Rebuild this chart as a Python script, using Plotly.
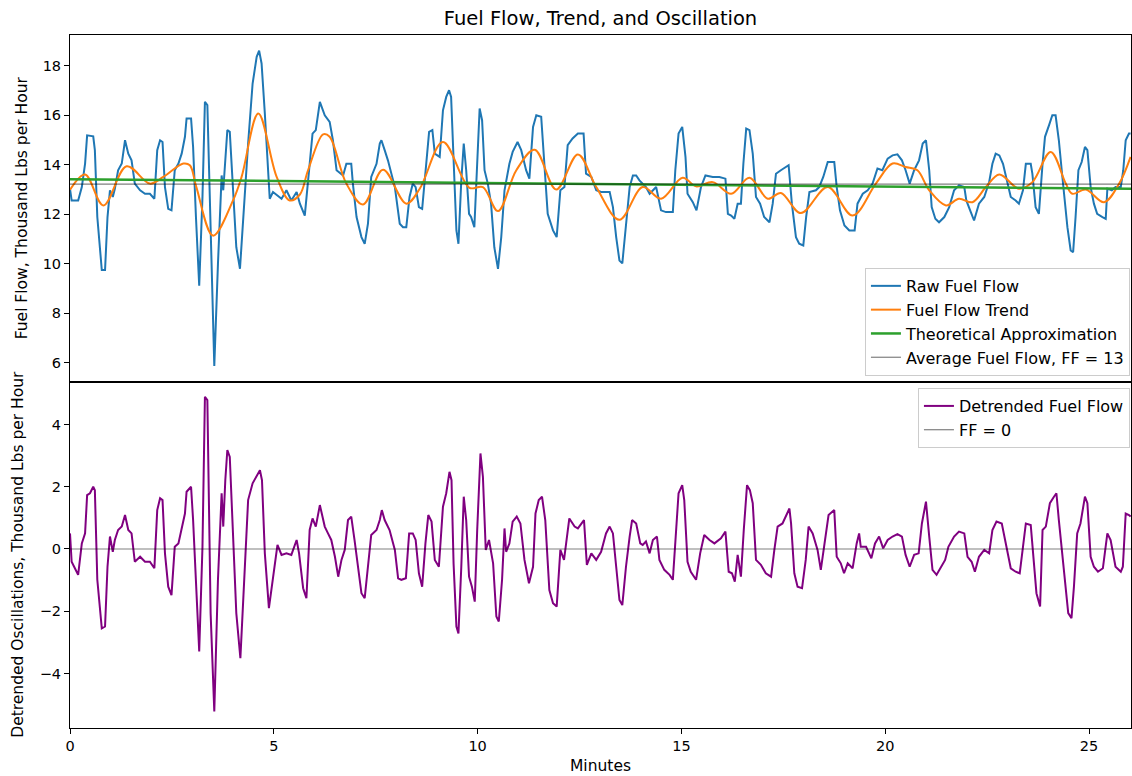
import plotly.graph_objects as go
from plotly.subplots import make_subplots

# ---------------- data ----------------
raw_minutes = [0.00, 0.04, 0.20, 0.29, 0.37, 0.42, 0.57, 0.61, 0.67, 0.78, 0.86, 0.92, 0.98, 1.05, 1.10, 1.18, 1.27, 1.35,
               1.43, 1.51, 1.59, 1.72, 1.84, 1.96, 2.07, 2.14, 2.21, 2.27, 2.33, 2.41, 2.49, 2.57, 2.66, 2.74, 2.82, 2.86,
               2.97, 3.02, 3.09, 3.17, 3.25, 3.31, 3.37, 3.45, 3.54, 3.63, 3.72, 3.76, 3.82, 3.86, 3.92, 4.00, 4.08, 4.17,
               4.29, 4.37, 4.48, 4.58, 4.64, 4.70, 4.78, 4.86, 4.90, 4.98, 5.09, 5.19, 5.31, 5.43, 5.56, 5.64, 5.76, 5.84,
               5.95, 6.03, 6.13, 6.25, 6.37, 6.45, 6.54, 6.70, 6.78, 6.90, 6.94, 7.03, 7.15, 7.23, 7.31, 7.39, 7.52, 7.60,
               7.64, 7.72, 7.80, 7.97, 8.09, 8.17, 8.25, 8.33, 8.41, 8.48, 8.56, 8.64, 8.74, 8.81, 8.89, 8.95, 9.07, 9.15,
               9.23, 9.30, 9.35, 9.41, 9.48, 9.53, 9.60, 9.66, 9.72, 9.79, 9.84, 9.92, 9.98, 10.05, 10.11, 10.17, 10.25,
               10.33, 10.41, 10.50, 10.58, 10.66, 10.78, 10.86, 10.98, 11.07, 11.19, 11.27, 11.36, 11.44, 11.56, 11.64,
               11.72, 11.85, 11.94, 12.03, 12.13, 12.21, 12.33, 12.46, 12.60, 12.66, 12.79, 12.91, 13.03, 13.24, 13.32,
               13.40, 13.48, 13.55, 13.63, 13.73, 13.81, 13.89, 13.97, 14.05, 14.13, 14.22, 14.30, 14.38, 14.50, 14.62,
               14.79, 14.85, 14.93, 15.02, 15.10, 15.15, 15.28, 15.37, 15.48, 15.59, 15.77, 15.93, 16.08, 16.14, 16.22,
               16.30, 16.38, 16.46, 16.52, 16.59, 16.67, 16.75, 16.83, 16.93, 17.03, 17.16, 17.24, 17.32, 17.44, 17.55,
               17.63, 17.71, 17.81, 17.89, 17.99, 18.06, 18.14, 18.30, 18.38, 18.48, 18.59, 18.75, 18.81, 18.89, 19.00,
               19.12, 19.25, 19.32, 19.45, 19.57, 19.69, 19.81, 19.93, 20.06, 20.18, 20.30, 20.41, 20.50, 20.60, 20.71,
               20.83, 20.92, 21.00, 21.08, 21.14, 21.23, 21.32, 21.45, 21.57, 21.69, 21.81, 21.94, 21.99, 22.10, 22.18,
               22.30, 22.43, 22.55, 22.63, 22.71, 22.80, 22.89, 23.00, 23.08, 23.20, 23.28, 23.38, 23.45, 23.57, 23.61,
               23.69, 23.77, 23.86, 23.92, 24.02, 24.10, 24.18, 24.26, 24.33, 24.39, 24.47, 24.55, 24.61, 24.67, 24.74,
               24.82, 24.90, 24.96, 25.04, 25.12, 25.20, 25.33, 25.41, 25.45, 25.56, 25.65, 25.78, 25.84, 25.90, 25.98,
               26.02]
raw_fuel_flow = [13.03, 12.56, 12.56, 13.10, 14.05, 15.19, 15.15, 14.59, 11.89, 9.75, 9.75, 11.89, 12.97, 12.70, 13.03,
                 13.78, 14.05, 14.99, 14.45, 14.18, 13.24, 12.97, 12.83, 12.83, 12.63, 14.59, 14.99, 14.92, 13.10, 12.22,
                 12.16, 13.78, 14.05, 14.45, 15.13, 15.87, 15.87, 14.72, 11.89, 9.12, 12.70, 16.54, 16.41, 11.35, 5.88,
                 10.00, 13.57, 12.97, 14.32, 15.40, 15.33, 12.97, 10.67, 9.80, 12.97, 14.86, 17.28, 18.36, 18.61, 18.09,
                 16.07, 13.37, 12.63, 12.90, 12.76, 12.63, 12.97, 12.56, 12.90, 12.43, 11.95, 13.37, 15.26, 15.40, 16.54,
                 16.00, 15.73, 14.99, 13.78, 13.57, 14.04, 14.04, 13.24, 11.89, 11.08, 10.81, 11.62, 13.51, 14.04, 14.86,
                 14.99, 14.59, 14.18, 13.10, 11.62, 11.48, 11.48, 12.70, 13.24, 13.10, 12.29, 12.22, 14.04, 15.33, 15.40,
                 14.45, 14.32, 16.20, 16.74, 17.01, 16.74, 14.04, 11.35, 10.81, 13.37, 14.86, 13.78, 12.02, 11.89, 11.48,
                 14.04, 16.27, 15.80, 13.78, 13.24, 12.43, 10.67, 9.80, 11.08, 12.97, 14.04, 14.52, 14.92, 14.59, 13.78,
                 13.44, 15.53, 16.00, 15.94, 14.04, 12.02, 11.35, 11.08, 12.97, 13.10, 14.79, 15.06, 15.26, 15.26, 13.64,
                 13.51, 12.97, 12.90, 12.90, 12.29, 11.08, 10.13, 10.02, 11.48, 13.10, 13.57, 13.57, 13.37, 13.24, 13.10,
                 12.83, 12.97, 13.10, 12.16, 12.09, 12.09, 13.78, 15.26, 15.53, 14.32, 12.83, 12.49, 12.16, 13.10, 13.57,
                 13.51, 13.51, 13.44, 12.02, 11.95, 11.82, 12.43, 12.43, 14.04, 15.46, 15.40, 14.45, 12.70, 12.43, 11.89,
                 11.68, 12.43, 13.64, 13.78, 13.91, 13.98, 12.43, 11.08, 10.81, 10.74, 11.89, 12.90, 12.97, 13.10, 13.51,
                 14.11, 14.11, 13.10, 12.16, 11.55, 11.35, 11.35, 12.43, 12.83, 12.97, 13.24, 13.85, 13.78, 14.25, 14.38,
                 14.42, 14.18, 13.78, 13.24, 13.78, 14.18, 14.86, 14.99, 13.78, 12.29, 11.82, 11.68, 11.89, 12.29, 12.97,
                 13.17, 13.10, 12.56, 12.09, 11.75, 12.43, 12.70, 13.30, 14.04, 14.45, 14.38, 14.04, 13.24, 12.70, 12.56,
                 12.43, 12.97, 14.04, 14.04, 13.64, 12.29, 12.02, 14.04, 15.13, 15.60, 16.00, 16.00, 14.99, 13.78, 12.70,
                 11.48, 10.54, 10.47, 11.89, 13.78, 14.11, 14.72, 14.59, 13.10, 12.43, 12.02, 11.89, 11.82, 13.04, 12.97,
                 13.10, 13.10, 13.78, 14.99, 15.26, 15.26]

trend_minutes = [0.00, 0.37, 0.82, 1.39, 1.96, 2.29, 2.78, 2.94, 3.10, 3.51, 4.00, 4.21, 4.62, 5.07, 5.39, 5.64, 5.84,
                 6.21, 6.37, 6.78, 7.19, 7.68, 8.25, 8.58, 9.15, 9.80, 10.13, 10.50, 10.95, 11.40, 11.93, 12.46, 12.91,
                 13.48, 14.05, 14.50, 15.03, 15.36, 15.77, 16.22, 16.67, 17.12, 17.44, 17.93, 18.59, 19.20, 19.77, 20.18,
                 20.50, 20.79, 21.08, 21.49, 21.81, 22.14, 22.47, 22.80, 23.28, 23.61, 24.06, 24.43, 24.59, 24.92, 25.37,
                 25.74, 26.02]
trend_fuel_flow = [12.99, 13.61, 12.36, 13.94, 13.24, 13.51, 14.05, 13.98, 13.10, 11.14, 12.56, 13.51, 16.07, 13.51,
                   12.56, 12.80, 13.78, 15.23, 15.13, 13.24, 12.40, 13.80, 12.43, 13.03, 14.92, 13.07, 13.10, 12.13,
                   13.78, 14.61, 13.00, 14.42, 13.10, 11.78, 13.10, 12.63, 13.48, 13.13, 13.30, 12.83, 13.48, 12.63,
                   12.86, 12.05, 13.10, 11.95, 13.24, 14.05, 13.91, 13.78, 12.97, 12.36, 12.63, 12.49, 13.10, 13.61,
                   13.03, 13.30, 14.52, 13.24, 12.83, 13.00, 12.49, 13.24, 14.32]

theory_minutes = [0.00, 26.03]
theory_fuel_flow = [13.42, 13.03]

average_fuel_flow = 13.22
zero_level = 0.0
axis_span_minutes = [0.00, 26.03]

detrended_minutes = [0.00, 0.04, 0.12, 0.20, 0.29, 0.37, 0.42, 0.49, 0.57, 0.61, 0.67, 0.78, 0.86, 0.92, 0.98, 1.05,
                     1.10, 1.18, 1.27, 1.35, 1.43, 1.51, 1.59, 1.72, 1.84, 1.96, 2.07, 2.14, 2.21, 2.27, 2.33, 2.41,
                     2.49, 2.57, 2.66, 2.74, 2.82, 2.86, 2.97, 3.02, 3.09, 3.17, 3.25, 3.31, 3.37, 3.45, 3.54, 3.63,
                     3.72, 3.76, 3.81, 3.86, 3.92, 4.00, 4.08, 4.18, 4.29, 4.37, 4.48, 4.58, 4.66, 4.71, 4.78, 4.88,
                     4.98, 5.09, 5.19, 5.31, 5.43, 5.56, 5.62, 5.72, 5.80, 5.88, 5.95, 6.03, 6.13, 6.25, 6.33, 6.41,
                     6.50, 6.58, 6.66, 6.74, 6.82, 6.90, 6.98, 7.07, 7.15, 7.23, 7.31, 7.39, 7.52, 7.60, 7.65, 7.72,
                     7.84, 7.97, 8.05, 8.13, 8.24, 8.32, 8.41, 8.48, 8.56, 8.64, 8.72, 8.79, 8.87, 8.95, 9.05, 9.15,
                     9.23, 9.31, 9.36, 9.41, 9.48, 9.53, 9.60, 9.66, 9.72, 9.79, 9.86, 9.93, 9.99, 10.07, 10.13, 10.20,
                     10.28, 10.38, 10.46, 10.52, 10.60, 10.66, 10.70, 10.78, 10.86, 10.96, 11.05, 11.15, 11.26, 11.36,
                     11.42, 11.50, 11.58, 11.66, 11.76, 11.85, 11.94, 12.03, 12.12, 12.19, 12.25, 12.38, 12.46, 12.61,
                     12.68, 12.79, 12.91, 13.03, 13.15, 13.24, 13.32, 13.40, 13.48, 13.55, 13.64, 13.73, 13.79, 13.89,
                     13.99, 14.05, 14.13, 14.22, 14.30, 14.40, 14.46, 14.58, 14.71, 14.79, 14.87, 14.93, 15.02, 15.07,
                     15.15, 15.23, 15.36, 15.46, 15.56, 15.69, 15.81, 15.97, 16.08, 16.16, 16.24, 16.31, 16.38, 16.46,
                     16.53, 16.61, 16.68, 16.75, 16.83, 16.95, 17.07, 17.20, 17.28, 17.36, 17.48, 17.55, 17.65, 17.69,
                     17.77, 17.85, 17.96, 18.05, 18.12, 18.22, 18.34, 18.42, 18.53, 18.61, 18.75, 18.81, 18.91, 18.99,
                     19.08, 19.20, 19.30, 19.36, 19.40, 19.53, 19.66, 19.75, 19.85, 19.95, 20.06, 20.18, 20.30, 20.41,
                     20.50, 20.60, 20.71, 20.82, 20.90, 21.00, 21.08, 21.16, 21.26, 21.37, 21.47, 21.55, 21.69, 21.81,
                     21.94, 22.02, 22.12, 22.20, 22.30, 22.43, 22.55, 22.63, 22.73, 22.86, 22.96, 23.08, 23.20, 23.30,
                     23.38, 23.45, 23.57, 23.63, 23.71, 23.80, 23.86, 23.94, 24.04, 24.14, 24.20, 24.26, 24.32, 24.41,
                     24.49, 24.57, 24.63, 24.71, 24.79, 24.90, 24.96, 25.04, 25.12, 25.22, 25.34, 25.45, 25.53, 25.65,
                     25.78, 25.83, 25.90, 25.98, 26.02]
detrended_fuel_flow = [0.50, -0.41, -0.62, -0.83, 0.18, 0.50, 1.73, 1.79, 2.00, 1.89, -0.99, -2.55, -2.49, -0.57, 0.40,
                       -0.09, 0.29, 0.61, 0.72, 1.09, 0.61, 0.50, -0.41, -0.25, -0.41, -0.41, -0.62, 1.25, 1.63, 1.57,
                       -0.14, -1.21, -1.48, 0.07, 0.18, 0.61, 1.14, 1.84, 2.00, 0.93, -1.10, -3.29, 0.07, 4.89, 4.78,
                       -2.06, -5.22, -0.99, 1.79, 0.72, 2.21, 3.18, 2.96, 0.29, -2.06, -3.51, -0.46, 1.57, 2.11, 2.32,
                       2.53, 2.21, -0.14, -1.90, -0.99, 0.13, -0.19, -0.14, -0.19, 0.29, -0.14, -1.26, -1.58, 0.61,
                       0.98, 0.72, 1.41, 0.72, 0.50, 0.29, -0.25, -0.89, -0.35, -0.03, 0.93, 1.04, 0.29, -0.67, -1.42,
                       -1.58, -0.67, 0.45, 0.61, 0.93, 1.25, 0.93, 0.61, -0.03, -0.94, -0.99, -0.94, 0.50, 0.50, 0.29,
                       -0.78, -1.21, 0.18, 1.09, 0.88, -0.35, -0.57, 1.36, 1.79, 2.48, 2.21, -0.46, -2.49, -2.71, -0.57,
                       1.68, 0.93, -0.89, -1.21, -1.69, 0.61, 3.07, 2.32, -0.03, 0.29, -0.46, -2.17, -2.33, -0.99, 0.66,
                       -0.09, 0.18, 0.88, 1.04, 0.82, -0.35, -1.10, -0.57, 1.14, 1.57, 1.68, 0.93, -1.32, -1.74, -1.85,
                       -0.03, -0.35, 0.40, 0.98, 0.72, 0.66, 0.93, -0.51, -0.14, -0.35, -0.09, 0.50, 0.72, 0.50, -0.57,
                       -1.64, -1.80, -0.57, 0.40, 0.93, 0.82, 0.18, 0.13, 0.24, -0.14, 0.29, 0.40, -0.35, -0.67, -0.83,
                       -0.99, 0.82, 1.79, 2.05, 1.57, -0.41, -0.73, -0.99, -0.14, 0.45, 0.29, 0.18, 0.34, 0.56, -0.73,
                       -0.78, -1.05, -0.19, -0.89, 0.61, 2.05, 1.89, 1.47, -0.35, -0.51, -0.78, -0.89, -0.03, 0.72,
                       0.82, 1.04, 1.30, 0.82, -0.78, -1.21, -1.26, -0.35, 0.72, 0.50, -0.03, -0.67, 0.40, 1.09, 1.25,
                       -0.25, -0.46, -0.78, -0.46, -0.62, 0.18, 0.50, 0.07, 0.07, -0.30, 0.18, 0.40, 0.02, 0.29, 0.40,
                       0.48, 0.40, -0.19, -0.57, -0.19, -0.14, 0.82, 1.52, 0.40, -0.67, -0.83, -0.57, -0.35, 0.07, 0.40,
                       0.56, 0.50, -0.25, -0.41, -0.73, -0.25, -0.03, -0.14, 0.61, 0.88, 0.82, 0.18, -0.62, -0.73,
                       -0.78, 0.07, 0.82, 0.77, -0.14, -1.42, -1.85, 0.61, 0.72, 1.47, 1.68, 1.79, 0.93, 0.18, -1.10,
                       -2.06, -2.22, -1.21, 0.50, 0.82, 1.68, 1.47, -0.25, -0.57, -0.73, -0.62, 0.50, 0.29, -0.57, -0.73,
                       -0.57, 1.14, 1.09, 1.04]

top_ticks = [6, 8, 10, 12, 14, 16, 18]
bottom_ticks = [-4, -2, 0, 2, 4]
x_ticks = [0, 5, 10, 15, 20, 25]

# ---------------- figure ----------------
FONT = "DejaVu Sans"
TICK_SIZE = 14.5
LABEL_SIZE = 15.5
LEGEND_SIZE = 16
TITLE_SIZE = 19.5

fig = make_subplots(rows=2, cols=1, shared_xaxes=True, vertical_spacing=0)

fig.add_trace(go.Scatter(x=raw_minutes, y=raw_fuel_flow, mode="lines", name="Raw Fuel Flow",
                         line=dict(color="#1f77b4", width=2), legend="legend"), row=1, col=1)
fig.add_trace(go.Scatter(x=trend_minutes, y=trend_fuel_flow, mode="lines", name="Fuel Flow Trend",
                         line=dict(color="#ff7f0e", width=2, shape="spline", smoothing=1.0), legend="legend"),
              row=1, col=1)
fig.add_trace(go.Scatter(x=theory_minutes, y=theory_fuel_flow, mode="lines", name="Theoretical Approximation",
                         line=dict(color="#2ca02c", width=2.5), legend="legend"), row=1, col=1)
fig.add_trace(go.Scatter(x=axis_span_minutes, y=[average_fuel_flow] * len(axis_span_minutes), mode="lines",
                         name="Average Fuel Flow, FF = 13",
                         line=dict(color="rgba(0,0,0,0.5)", width=1.2), legend="legend"), row=1, col=1)

fig.add_trace(go.Scatter(x=detrended_minutes, y=detrended_fuel_flow, mode="lines", name="Detrended Fuel Flow",
                         line=dict(color="purple", width=2), legend="legend2"), row=2, col=1)
fig.add_trace(go.Scatter(x=axis_span_minutes, y=[zero_level] * len(axis_span_minutes), mode="lines", name="FF = 0",
                         line=dict(color="rgba(0,0,0,0.5)", width=1.2), legend="legend2"), row=2, col=1)

axis_common = dict(showline=True, linecolor="black", linewidth=1, mirror=True, showgrid=False, zeroline=False,
                   ticks="outside", ticklen=5, tickwidth=1, tickcolor="black",
                   tickfont=dict(family=FONT, size=TICK_SIZE, color="black"))

fig.update_xaxes(range=[0, 26.03], tickvals=x_ticks, **axis_common)
fig.update_xaxes(showticklabels=False, ticks="", row=1, col=1)
fig.update_yaxes(range=[5.25, 19.24], tickvals=top_ticks, row=1, col=1, **axis_common)
fig.update_yaxes(range=[-5.75, 5.38], tickvals=bottom_ticks, row=2, col=1, **axis_common)

legend_style = dict(bgcolor="rgba(255,255,255,0.8)", bordercolor="#cccccc", borderwidth=1,
                    font=dict(family=FONT, size=LEGEND_SIZE, color="black"), xref="paper", yref="paper",
                    x=0.999, xanchor="right", itemwidth=30, tracegroupgap=0)

fig.update_layout(
    width=1132, height=776,
    margin=dict(l=70, r=1, t=35, b=48),
    paper_bgcolor="white", plot_bgcolor="white",
    font=dict(family=FONT, size=TICK_SIZE, color="black"),
    title=dict(text="Fuel Flow, Trend, and Oscillation", x=0.5, xref="paper", xanchor="center",
               y=1 - 18 / 776, yref="container", yanchor="middle",
               font=dict(family=FONT, size=TITLE_SIZE, color="black")),
    showlegend=True,
    legend=dict(y=0.508, yanchor="bottom", **legend_style),
    legend2=dict(y=0.4906, yanchor="top", **legend_style),
    annotations=[
        dict(text="Fuel Flow, Thousand Lbs per Hour", xref="paper", yref="paper", x=-0.0452, y=0.75,
             xanchor="center", yanchor="middle", textangle=-90, showarrow=False,
             font=dict(family=FONT, size=LABEL_SIZE, color="black")),
        dict(text="Detrended Oscillations, Thousand Lbs per Hour", xref="paper", yref="paper", x=-0.049, y=0.25,
             xanchor="center", yanchor="middle", textangle=-90, showarrow=False,
             font=dict(family=FONT, size=LABEL_SIZE, color="black")),
        dict(text="Minutes", xref="paper", yref="paper", x=0.5, y=-0.0548, xanchor="center", yanchor="middle",
             showarrow=False, font=dict(family=FONT, size=LABEL_SIZE, color="black")),
    ],
)

fig.write_html("out.html")
